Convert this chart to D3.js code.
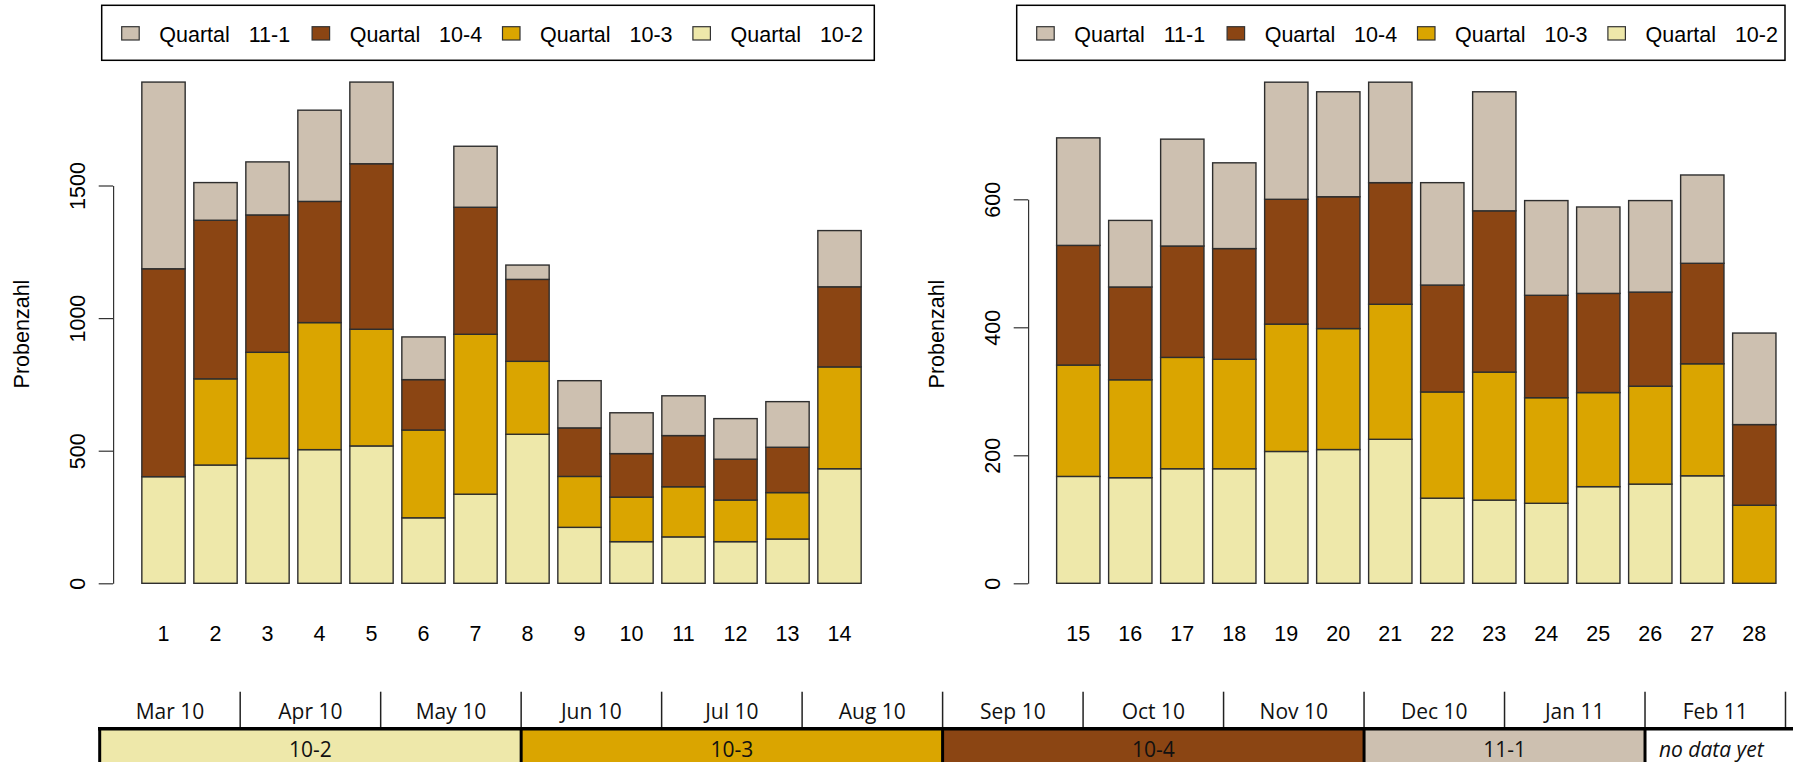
<!DOCTYPE html>
<html>
<head>
<meta charset="utf-8">
<script src="https://cdn.jsdelivr.net/npm/d3@7"></script>
<style>
  html, body { margin: 0; padding: 0; background: #fff; }
  svg { display: block; }
  .chart text { font-family: "Liberation Sans", Arial, sans-serif; font-size: 21.5px; fill: #000; }
  .timeline text { font-family: "Open Sans", "Noto Sans", sans-serif; font-size: 21px; fill: #111; }
</style>
</head>
<body>
<svg id="root" width="1793" height="762"></svg>
<script>
// ---------- data ----------
const categories = d3.range(1, 29).map(String);
const q10_2 = [402, 446, 471, 504, 518, 247, 336, 562, 211, 157, 175, 157, 167, 432,
               167, 165, 179, 179, 206, 209, 225, 133, 130, 125, 151, 155, 168, 0];
const q10_3 = [0, 325, 400, 479, 440, 331, 603, 275, 192, 168, 189, 157, 175, 384,
               174, 153, 174, 171, 199, 189, 211, 166, 200, 165, 147, 153, 175, 122];
const q10_4 = [784, 598, 518, 457, 624, 190, 479, 309, 183, 164, 193, 154, 171, 302,
               187, 145, 174, 173, 195, 206, 190, 167, 252, 160, 155, 147, 157, 126];
const q11_1 = [704, 142, 200, 344, 308, 161, 230, 54, 178, 154, 150, 153, 172, 212,
               168, 104, 167, 134, 183, 164, 157, 160, 186, 148, 135, 143, 138, 143];
const seriesKeys = ["10-2", "10-3", "10-4", "11-1"];
const seriesColors = ["#EEE8AA", "#DAA500", "#8B4513", "#CDC0B0"];
const legendKeys = ["11-1", "10-4", "10-3", "10-2"];
const leftTicks = [0, 500, 1000, 1500];
const rightTicks = [0, 200, 400, 600];
const months = ["Mar 10", "Apr 10", "May 10", "Jun 10", "Jul 10", "Aug 10",
                "Sep 10", "Oct 10", "Nov 10", "Dec 10", "Jan 11", "Feb 11"];
const quarterLabels = ["10-2", "10-3", "10-4", "11-1", "no data yet"];
const quarterStart = [0, 3, 6, 9, 11];
const quarterEnd = [3, 6, 9, 11, 12];
const quarterColors = ["#EEE8AA", "#DAA500", "#8B4513", "#CDC0B0", "#FFFFFF"];

// ---------- build table ----------
const rows = categories.map((c, i) => ({
  cat: c, "10-2": q10_2[i], "10-3": q10_3[i], "10-4": q10_4[i], "11-1": q11_1[i]
}));
const color = d3.scaleOrdinal().domain(seriesKeys).range(seriesColors);
const stack = d3.stack().keys(seriesKeys);

const svg = d3.select("#root");

function panel(opts) {
  const g = svg.append("g").attr("class", "chart");
  const data = rows.slice(opts.from, opts.to);
  const x = d3.scaleBand().domain(data.map(d => d.cat))
    .range([opts.x0, opts.x0 + 728]).paddingInner(1 / 6).paddingOuter(1 / 12);
  const y = d3.scaleLinear().domain(opts.yDomain).range([583.3, opts.yTop]);
  const series = stack(data);

  g.selectAll("g.series").data(series).join("g")
    .attr("class", "series")
    .attr("fill", d => color(d.key))
    .selectAll("rect").data(d => d).join("rect")
    .attr("x", d => x(d.data.cat))
    .attr("width", x.bandwidth())
    .attr("y", d => y(d[1]))
    .attr("height", d => y(d[0]) - y(d[1]))
    .attr("stroke", "#2e2e2e")
    .attr("stroke-width", 1.4);

  // y axis
  const yAxis = d3.axisLeft(y).tickValues(opts.ticks).tickSize(14.4).tickSizeOuter(0)
    .tickFormat(d3.format("d"));
  const ax = g.append("g").attr("transform", `translate(${opts.axisX},0)`).call(yAxis);
  ax.select(".domain").attr("stroke", "#333").attr("stroke-width", 1.2);
  ax.selectAll(".tick line").attr("stroke", "#333").attr("stroke-width", 1.2);
  ax.selectAll(".tick text")
    .attr("transform", "rotate(-90)")
    .attr("x", 0).attr("y", -28).attr("dy", 0)
    .attr("text-anchor", "middle")
    .style("font-family", "'Liberation Sans', Arial, sans-serif")
    .style("font-size", "21.5px").attr("fill", "#000");

  // x labels (no axis line)
  const xAxis = d3.axisBottom(x).tickSize(0);
  const bx = g.append("g").attr("transform", "translate(0,641)").call(xAxis);
  bx.select(".domain").remove();
  bx.selectAll(".tick text").attr("y", 0).attr("dy", 0)
    .style("font-family", "'Liberation Sans', Arial, sans-serif")
    .style("font-size", "21.5px").attr("fill", "#000");

  // y label
  g.append("text")
    .attr("transform", `translate(${opts.axisX - 84.4},334) rotate(-90)`)
    .attr("text-anchor", "middle")
    .text("Probenzahl");

  // legend
  const lg = g.append("g");
  lg.append("rect")
    .attr("x", opts.legX).attr("y", 5.3)
    .attr("width", opts.legW).attr("height", 55)
    .attr("fill", "#fff").attr("stroke", "#000").attr("stroke-width", 1.5);
  const items = lg.selectAll("g.item").data(legendKeys).join("g")
    .attr("class", "item")
    .attr("transform", (d, i) => `translate(${opts.legX + 20 + i * 190.4},0)`);
  items.append("rect")
    .attr("x", 0).attr("y", 26.7).attr("width", 17.5).attr("height", 13.3)
    .attr("fill", d => color(d)).attr("stroke", "#333").attr("stroke-width", 1.2);
  items.append("text").attr("x", 37.6).attr("y", 41.7).text("Quartal");
  items.append("text").attr("x", 127).attr("y", 41.7).text(d => d);
}

panel({ from: 0, to: 14, x0: 137.5, axisX: 113.1, yDomain: [0, 1500], yTop: 185.5,
        ticks: leftTicks, legX: 101.7, legW: 772.6 });
panel({ from: 14, to: 28, x0: 1052.3, axisX: 1028.1, yDomain: [0, 600], yTop: 199.3,
        ticks: rightTicks, legX: 1016.7, legW: 768.3 });

// ---------- timeline ----------
const tl = svg.append("g").attr("class", "timeline");
const mx = d3.scaleLinear().domain([0, 12]).range([99.7, 1785.5]);

tl.selectAll("line.mtick").data(d3.range(1, 13)).join("line")
  .attr("class", "mtick")
  .attr("x1", d => mx(d)).attr("x2", d => mx(d))
  .attr("y1", 691.7).attr("y2", 728)
  .attr("stroke", "#222").attr("stroke-width", 1.5);

tl.selectAll("text.month").data(months).join("text")
  .attr("class", "month")
  .attr("x", (d, i) => mx(i + 0.5)).attr("y", 719.3)
  .attr("text-anchor", "middle")
  .text(d => d);

const qd = quarterLabels.map((l, i) => ({ label: l, s: quarterStart[i], e: quarterEnd[i], c: quarterColors[i] }));
tl.selectAll("rect.q").data(qd).join("rect")
  .attr("class", "q")
  .attr("x", d => mx(d.s)).attr("width", d => mx(d.e) - mx(d.s))
  .attr("y", 728.7).attr("height", 40)
  .attr("fill", d => d.c);

tl.selectAll("text.ql").data(qd).join("text")
  .attr("class", "ql")
  .attr("x", d => (mx(d.s) + mx(d.e)) / 2 - (d.s === 11 ? 4 : 0))
  .attr("y", 756.7)
  .attr("text-anchor", "middle")
  .style("font-style", d => d.s === 11 ? "italic" : "normal")
  .text(d => d.label);

// thick borders
tl.append("line").attr("x1", 98).attr("x2", 1793).attr("y1", 728.7).attr("y2", 728.7)
  .attr("stroke", "#000").attr("stroke-width", 3.5);
tl.selectAll("line.qsep").data([0, 3, 6, 9, 11]).join("line")
  .attr("class", "qsep")
  .attr("x1", d => mx(d)).attr("x2", d => mx(d))
  .attr("y1", 727).attr("y2", 762)
  .attr("stroke", "#000").attr("stroke-width", 3);
</script>
</body>
</html>
